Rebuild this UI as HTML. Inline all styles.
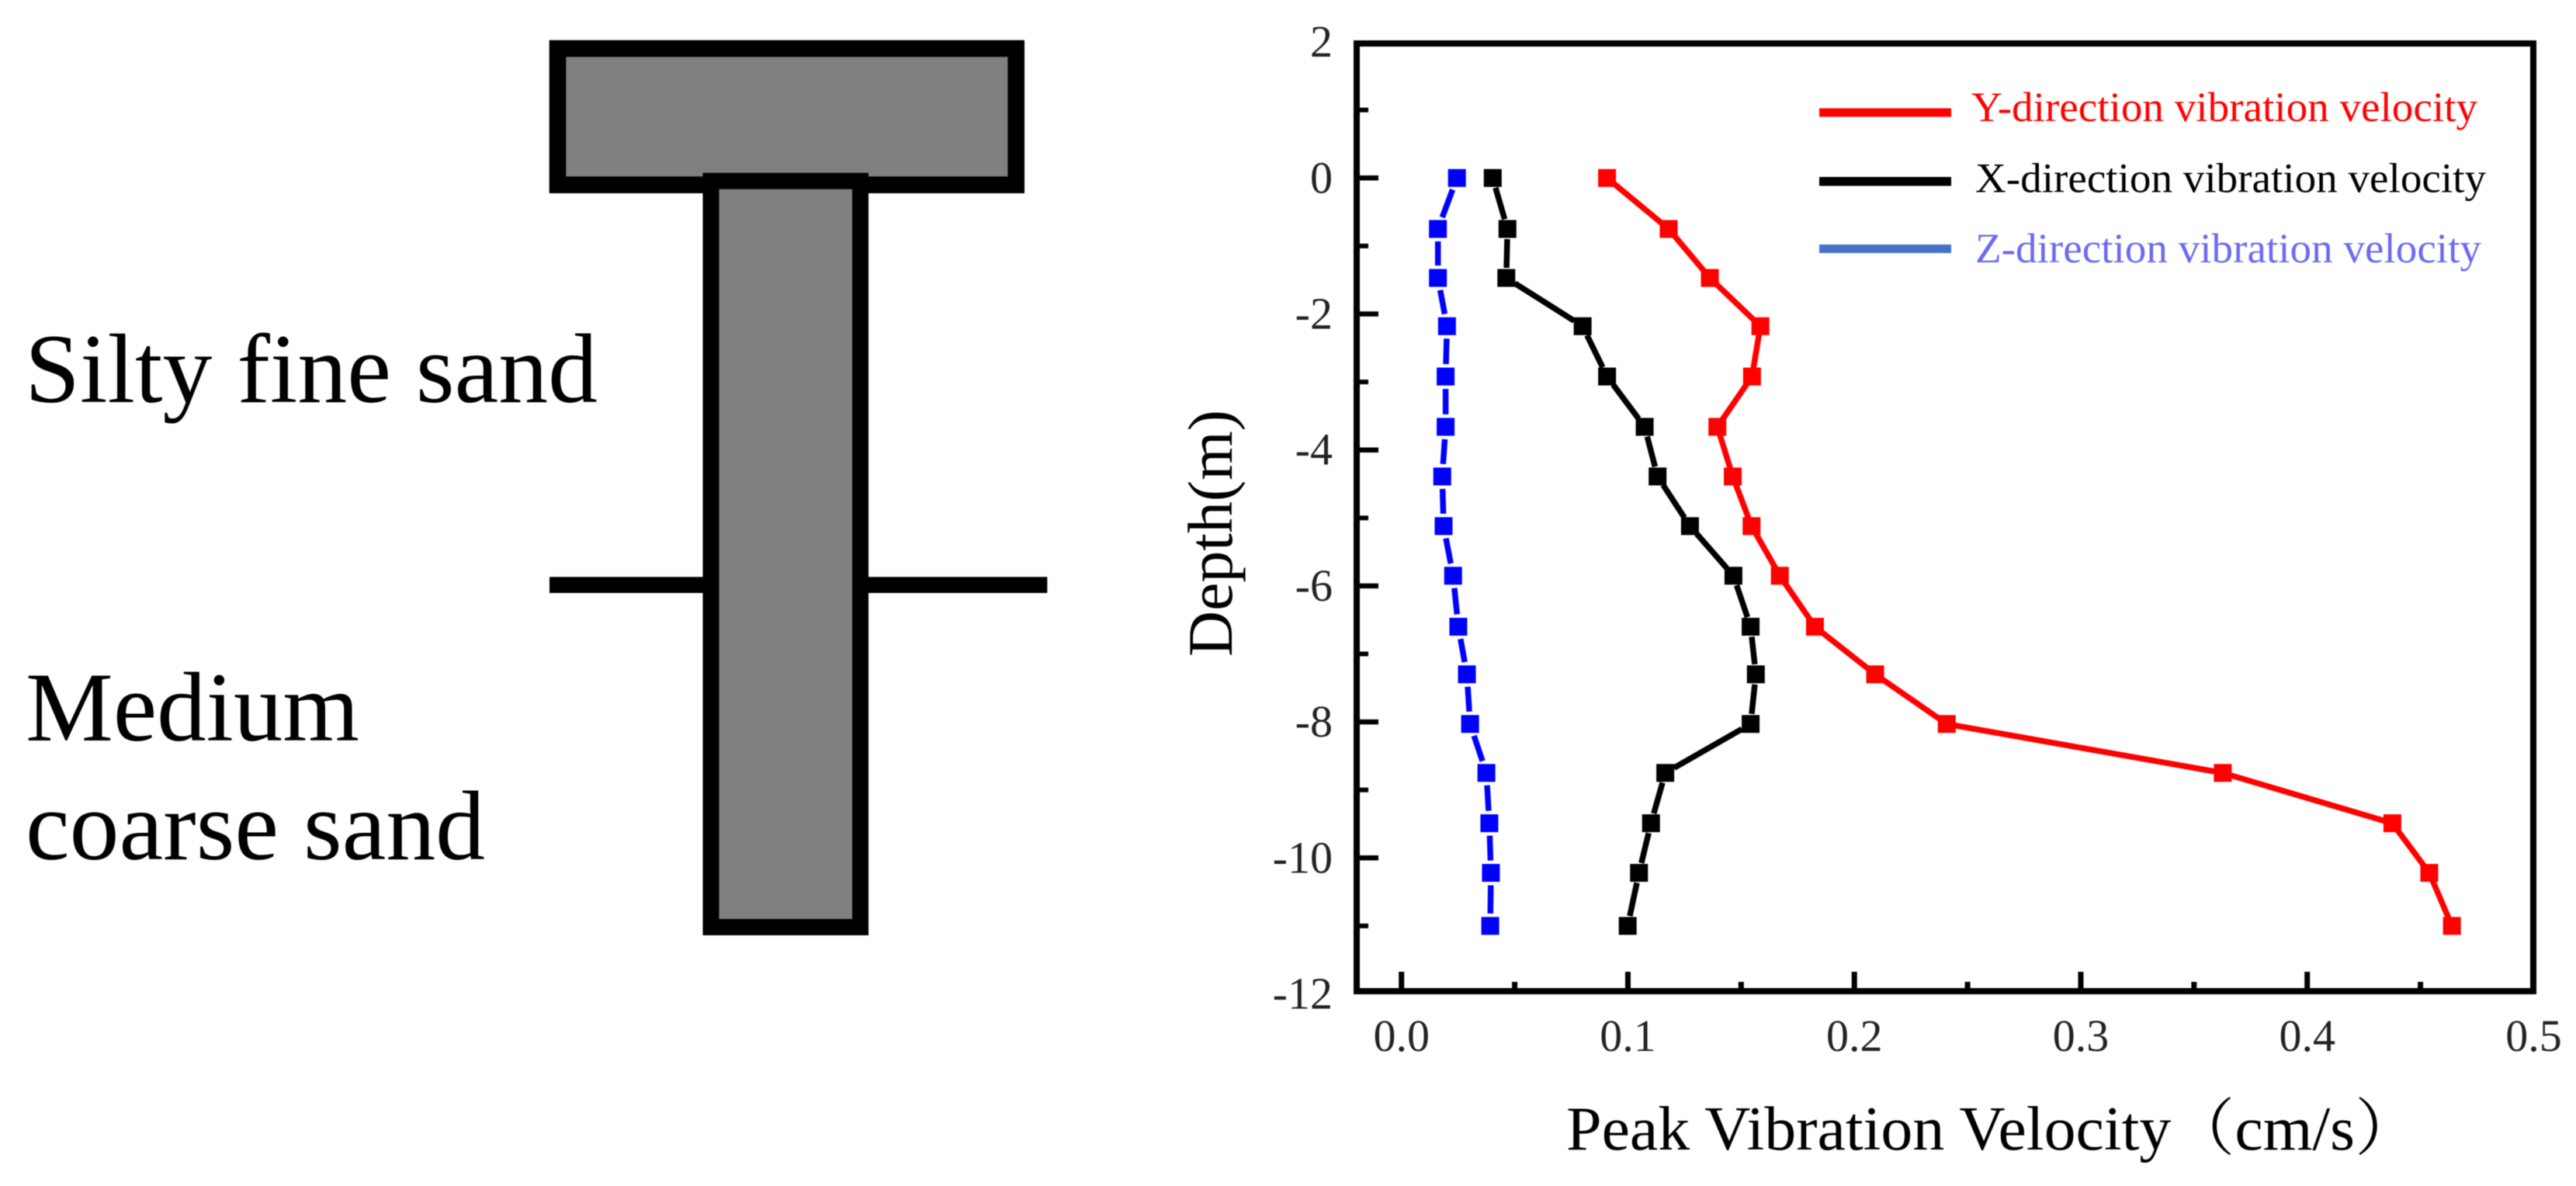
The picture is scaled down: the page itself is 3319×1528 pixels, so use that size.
<!DOCTYPE html>
<html lang="en">
<head>
<meta charset="utf-8">
<title>Pile schematic and peak vibration velocity by depth</title>
<style>
  html, body { margin: 0; padding: 0; background: #fff; }
  body { width: 3319px; height: 1528px; overflow: hidden; }
  svg { display: block; filter: blur(0.6px); }
  text { font-family: "Liberation Serif", "Noto Serif CJK SC", serif; }
</style>
</head>
<body>
<svg id="figure" xmlns="http://www.w3.org/2000/svg" width="3319" height="1528" viewBox="0 0 3319 1528">
  <rect x="0" y="0" width="3319" height="1528" fill="#fff"/>

  <g>
    <rect x="718.5" y="62.5" width="590.7" height="175.7" fill="#808080" stroke="#000" stroke-width="21.6"/>
    <rect x="708" y="743.3" width="200" height="20.7" fill="#000"/>
    <rect x="1116" y="743.3" width="233.3" height="20.7" fill="#000"/>
    <rect x="916" y="233.2" width="192.5" height="961.3" fill="#808080" stroke="#000" stroke-width="21"/>
    <text x="32" y="518" font-size="127" textLength="738" lengthAdjust="spacingAndGlyphs">Silty fine sand</text>
    <text x="33" y="954" font-size="127" textLength="430" lengthAdjust="spacingAndGlyphs">Medium</text>
    <text x="33" y="1107" font-size="127" textLength="592" lengthAdjust="spacingAndGlyphs">coarse sand</text>
  </g>

  <g id="chart">
    <g id="ticks"></g>
    <g id="tick-labels"></g>
    <g id="series"></g>
    <rect x="1748" y="56" width="1516" height="1221" fill="none" stroke="#000" stroke-width="8"/>
    <text transform="translate(1587 846) rotate(-90)" font-size="82" textLength="318" lengthAdjust="spacingAndGlyphs">Depth(m)</text>
    <text x="2018" y="1481" font-size="80" textLength="1098" lengthAdjust="spacingAndGlyphs">Peak Vibration Velocity（cm/s）</text>

    <g>
      <g>
        <rect x="2344" y="139.5" width="170" height="11" fill="#ff0000"/>
        <text x="2540" y="156" font-size="54" fill="#ff0000" textLength="652" lengthAdjust="spacingAndGlyphs">Y-direction vibration velocity</text>
      </g>
      <g>
        <rect x="2344" y="228" width="170" height="11.5" fill="#000"/>
        <text x="2545" y="247.5" font-size="54" fill="#000" textLength="658" lengthAdjust="spacingAndGlyphs">X-direction vibration velocity</text>
      </g>
      <g>
        <rect x="2344" y="315" width="170" height="11" fill="#4472c4"/>
        <text x="2545" y="338" font-size="54" fill="#6a6af0" textLength="652" lengthAdjust="spacingAndGlyphs">Z-direction vibration velocity</text>
      </g>
    </g>
  </g>
</svg>

<script>
// Chart data
const depths = [0, -0.75, -1.47, -2.18, -2.92, -3.66, -4.39, -5.12, -5.85, -6.6, -7.3, -8.03, -8.75, -9.49, -10.22, -11.0];
const yVelocity = [0.0908, 0.118, 0.1362, 0.1585, 0.1548, 0.1395, 0.1463, 0.1546, 0.1671, 0.1826, 0.2092, 0.2408, 0.3627, 0.4376, 0.4539, 0.4639];
const xVelocity = [0.0403, 0.0468, 0.0463, 0.08, 0.0908, 0.1074, 0.1131, 0.1274, 0.1466, 0.1542, 0.1565, 0.1542, 0.1165, 0.1102, 0.1049, 0.0999];
const zVelocity = [0.0245, 0.0161, 0.0161, 0.0201, 0.0195, 0.0195, 0.018, 0.0186, 0.0228, 0.0251, 0.0289, 0.0303, 0.0375, 0.0388, 0.0395, 0.0392];
const xMajorTicks = [0, 0.1, 0.2, 0.3, 0.4];
const xMinorTicks = [0.05, 0.15, 0.25, 0.35, 0.45];
const yMajorTicks = [0, -2, -4, -6, -8, -10];
const yMinorTicks = [1, -1, -3, -5, -7, -9, -11];
const xTickLabels = ['0.0', '0.1', '0.2', '0.3', '0.4', '0.5'];
const yTickLabels = ['2', '0', '-2', '-4', '-6', '-8', '-10', '-12'];

const SVG_NS = 'http://www.w3.org/2000/svg';
const xScale = function (v) { return 1805.7 + 2917.5 * v; };
const yScale = function (v) { return 229.3 - 87.6 * v; };

const ticksGroup = document.getElementById('ticks');
const labelsGroup = document.getElementById('tick-labels');
const seriesGroup = document.getElementById('series');

function makeLine(x1, y1, x2, y2, color, width) {
  const line = document.createElementNS(SVG_NS, 'line');
  line.setAttribute('x1', x1);
  line.setAttribute('y1', y1);
  line.setAttribute('x2', x2);
  line.setAttribute('y2', y2);
  line.setAttribute('stroke', color);
  line.setAttribute('stroke-width', width);
  return line;
}

xMajorTicks.forEach(function (v) {
  const tick = makeLine(xScale(v), 1252, xScale(v), 1277, '#000', 7);
  
  
  ticksGroup.appendChild(tick);
});
xMinorTicks.forEach(function (v) {
  const tick = makeLine(xScale(v), 1265, xScale(v), 1277, '#000', 7);
  
  
  ticksGroup.appendChild(tick);
});
yMajorTicks.forEach(function (v) {
  const tick = makeLine(1748, yScale(v), 1776, yScale(v), '#000', 6.5);
  
  
  ticksGroup.appendChild(tick);
});
yMinorTicks.forEach(function (v) {
  const tick = makeLine(1748, yScale(v), 1763, yScale(v), '#000', 6);
  
  
  ticksGroup.appendChild(tick);
});

xTickLabels.forEach(function (label) {
  const text = document.createElementNS(SVG_NS, 'text');
  
  
  text.setAttribute('x', xScale(parseFloat(label)));
  text.setAttribute('y', 1354);
  text.setAttribute('font-size', 58);
  text.setAttribute('text-anchor', 'middle');
  text.setAttribute('fill', '#222');
  text.textContent = label;
  labelsGroup.appendChild(text);
});
yTickLabels.forEach(function (label) {
  const text = document.createElementNS(SVG_NS, 'text');
  
  
  text.setAttribute('x', 1717);
  text.setAttribute('y', yScale(parseFloat(label)) + 19);
  text.setAttribute('font-size', 58);
  text.setAttribute('text-anchor', 'end');
  text.setAttribute('fill', '#222');
  text.textContent = label;
  labelsGroup.appendChild(text);
});

function drawSeries(values, color, gap, name) {
  const group = document.createElementNS(SVG_NS, 'g');
  
  
  seriesGroup.appendChild(group);

  for (let i = 0; i < values.length - 1; i++) {
    const x1 = xScale(values[i]);
    const y1 = yScale(depths[i]);
    const x2 = xScale(values[i + 1]);
    const y2 = yScale(depths[i + 1]);
    const length = Math.hypot(x2 - x1, y2 - y1);
    const ux = (x2 - x1) / length;
    const uy = (y2 - y1) / length;
    const segment = makeLine(x1 + ux * gap, y1 + uy * gap, x2 - ux * gap, y2 - uy * gap, color, 7.5);
    
    
    group.appendChild(segment);
  }
  values.forEach(function (v, i) {
    const size = 23;
    const marker = document.createElementNS(SVG_NS, 'rect');
    
    
    marker.setAttribute('x', xScale(v) - size / 2);
    marker.setAttribute('y', yScale(depths[i]) - size / 2);
    marker.setAttribute('width', size);
    marker.setAttribute('height', size);
    marker.setAttribute('fill', color);
    group.appendChild(marker);
  });
}

drawSeries(yVelocity, '#ff0000', 11, 'y-direction-series');
drawSeries(xVelocity, '#000000', 13, 'x-direction-series');
drawSeries(zVelocity, '#0000ff', 16, 'z-direction-series');
</script>
</body>
</html>
